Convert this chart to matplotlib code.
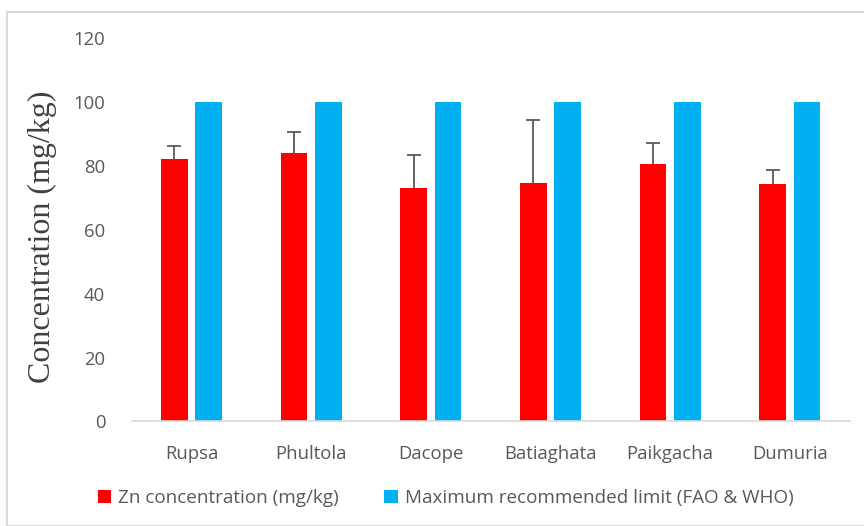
import matplotlib
matplotlib.use("Agg")
import matplotlib.pyplot as plt
import numpy as np
from matplotlib.patches import Rectangle

categories = ["Rupsa", "Phultola", "Dacope", "Batiaghata", "Paikgacha", "Dumuria"]
zn_values = [82.1, 84.0, 73.2, 74.7, 80.7, 74.4]
zn_errors = [4.2, 6.7, 10.3, 19.8, 6.4, 4.3]
limit_values = [100, 100, 100, 100, 100, 100]
series_names = ["Zn concentration (mg/kg)", "Maximum recommended limit (FAO & WHO)"]
yticks = [0, 20, 40, 60, 80, 100, 120]

red = "#FF0000"
blue = "#00B0F0"
gray = "#595959"
font = "Open Sans"

fig = plt.figure(figsize=(8.64, 5.26), dpi=100)
fig.patches.append(Rectangle((7/864, 0.0), 1.2, 1 - 12/526, transform=fig.transFigure,
                             fill=False, edgecolor="#D9D9D9", linewidth=1.5, zorder=0))
ax = fig.add_axes([0.1524, 0.199, 0.831, 0.728])

x = np.arange(len(categories))
w = 0.223
off = 0.144
ax.bar(x - off, zn_values, width=w, color=red, label=series_names[0], zorder=2)
eb = ax.errorbar(x - off, zn_values, yerr=[np.zeros(len(zn_errors)), zn_errors], fmt="none",
                 ecolor="#595959", elinewidth=1.3, capsize=5, capthick=1.3, zorder=3)
# hide lower caps (only the upper error is shown)
eb[1][0].set_visible(False)
ax.bar(x + off, limit_values, width=w, color=blue, label=series_names[1], zorder=2)

ax.set_xlim(-0.5, len(categories) - 0.5)
ax.set_ylim(0, 120)
ax.set_yticks(yticks)
ax.set_yticklabels([str(t) for t in yticks], fontsize=13.3, color=gray, family=font)
ax.set_xticks(x)
ax.set_xticklabels(categories, fontsize=13.3, color=gray, family=font)
ax.tick_params(axis="both", length=0)
ax.tick_params(axis="y", pad=19)
ax.tick_params(axis="x", pad=17)
for s in ["top", "right", "left"]:
    ax.spines[s].set_visible(False)
ax.spines["bottom"].set_color("#D9D9D9")
ax.spines["bottom"].set_linewidth(1.2)

ax.set_ylabel("Concentration (mg/kg)", fontsize=23, family="Liberation Serif",
              color="#404040")
ax.yaxis.set_label_coords(-0.104, 0.482)

leg = fig.legend(loc="center", bbox_to_anchor=(0.516, 0.053), ncol=2, frameon=False,
                 prop={"family": font, "size": 13.6}, handlelength=0.7, handleheight=0.7,
                 columnspacing=2.4, handletextpad=0.4)
for t in leg.get_texts():
    t.set_color(gray)

fig.savefig("out.png", dpi=100)
